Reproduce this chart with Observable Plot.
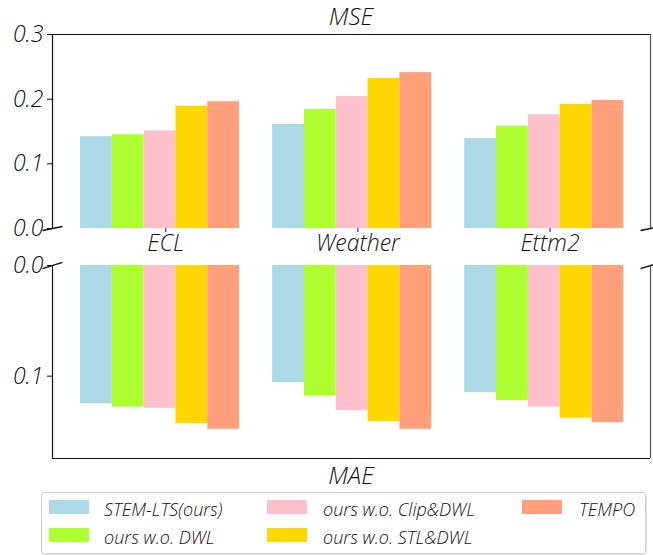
<!DOCTYPE html>
<html>
<head>
<meta charset="utf-8">
<script src="https://cdn.jsdelivr.net/npm/d3@7"></script>
<script src="https://cdn.jsdelivr.net/npm/@observablehq/plot@0.6"></script>
<style>
  html, body { margin: 0; padding: 0; background: #fff; }
  #wrap { position: relative; width: 653px; height: 555px; overflow: hidden; font-family: "Open Sans", sans-serif; font-style: italic; font-weight: 300; color: #111; }
  .title { position: absolute; left: 52px; width: 598px; text-align: center; font-size: 24px; line-height: 24px; }
  #legend { position: absolute; left: 41px; top: 492px; width: 603px; height: 60px; border: 1px solid #cfcfcf; border-radius: 3px; box-shadow: 1px 1px 1px rgba(0,0,0,0.10); }
  .sw { position: absolute; width: 40px; height: 14px; }
  .lt { position: absolute; font-size: 18px; line-height: 20px; white-space: nowrap; }
  .panel { position: absolute; left: 0; }
</style>
</head>
<body>
<div id="wrap">
  <div class="title" style="top:4px">MSE</div>
  <div id="top" class="panel" style="top:0px"></div>
  <div id="bottom" class="panel" style="top:262px"></div>
  <div class="title" style="top:463px">MAE</div>
  <div id="legend"></div>
</div>
<script>
// ---- data ----
const datasets = ["ECL", "Weather", "Ettm2"];
const methods = ["STEM-LTS(ours)", "ours w.o. DWL", "ours w.o. Clip&DWL", "ours w.o. STL&DWL", "TEMPO"];
const colors = ["#ADD8E6", "#ADFF2F", "#FFC0CB", "#FFD700", "#FFA07A"];

const mseECL     = [0.142, 0.145, 0.151, 0.189, 0.196];
const mseWeather = [0.161, 0.184, 0.204, 0.232, 0.241];
const mseEttm2   = [0.139, 0.158, 0.176, 0.192, 0.198];

const maeECL     = [0.125, 0.128, 0.129, 0.143, 0.148];
const maeWeather = [0.106, 0.118, 0.131, 0.141, 0.148];
const maeEttm2   = [0.115, 0.122, 0.128, 0.138, 0.142];

const mseTicks = [0.0, 0.1, 0.2, 0.3];
const maeTicks = [0.0, 0.1];

// ---- build tables ----
function rowsOf(series) {
  const out = [];
  series.forEach((vals, gi) => vals.forEach((v, mi) => out.push({dataset: datasets[gi], method: methods[mi], gi, mi, value: v})));
  return out;
}
const mseRows = rowsOf([mseECL, mseWeather, mseEttm2]);
const maeRows = rowsOf([maeECL, maeWeather, maeEttm2]);

const bw = 0.1656;              // bar width in group units
const xDomain = [-0.5598, 2.553];
const tickShift = 0.03;
const font = "'Open Sans', sans-serif";

const color = {domain: methods, range: colors};
const bars = (rows) => Plot.rectY(rows, {
  x1: d => d.gi + (d.mi - 2.5) * bw,
  x2: d => d.gi + (d.mi - 1.5) * bw,
  y1: 0, y2: "value", fill: "method"
});
const breaks = [{x: xDomain[0]}, {x: xDomain[1]}];
const bx = 0.052;

// ---- top panel (MSE) ----
const topPlot = Plot.plot({
  width: 653, height: 262,
  marginTop: 34, marginBottom: 34, marginLeft: 52, marginRight: 3,
  style: {fontFamily: font, fontStyle: "italic", fontWeight: 300, fontSize: "23px", color: "#111", background: "transparent", overflow: "visible"},
  x: {domain: xDomain, ticks: datasets.map((d, i) => i + tickShift), tickFormat: (t) => datasets[Math.round(t)], tickSize: 4, tickPadding: 2, label: null},
  y: {domain: [0, 0.3], ticks: mseTicks, tickFormat: d3.format(".1f"), tickSize: 5, tickPadding: 4, label: null},
  color,
  marks: [
    bars(mseRows),
    Plot.ruleY([0.3], {stroke: "#111", strokeWidth: 1.2}),
    Plot.ruleX([xDomain[0]], {stroke: "#111", strokeWidth: 1.2}),
    Plot.ruleX([xDomain[1]], {stroke: "#555", strokeWidth: 1.2}),
    Plot.link(breaks, {x1: d => d.x - bx, x2: d => d.x + bx, y1: -0.003, y2: 0.003, stroke: "#111", strokeWidth: 1.5})
  ]
});
document.getElementById("top").appendChild(topPlot);

// ---- bottom panel (MAE) ----
const maeMax = 0.1744;
const bottomPlot = Plot.plot({
  width: 653, height: 208,
  marginTop: 3, marginBottom: 12, marginLeft: 52, marginRight: 3,
  style: {fontFamily: font, fontStyle: "italic", fontWeight: 300, fontSize: "23px", color: "#111", background: "transparent", overflow: "visible"},
  x: {domain: xDomain, axis: null},
  y: {domain: [0, maeMax], reverse: true, ticks: maeTicks, tickFormat: d3.format(".1f"), tickSize: 5, tickPadding: 4, label: null},
  color,
  marks: [
    bars(maeRows),
    Plot.ruleY([maeMax], {stroke: "#111", strokeWidth: 1.2}),
    Plot.ruleX([xDomain[0]], {stroke: "#111", strokeWidth: 1.2}),
    Plot.ruleX([xDomain[1]], {stroke: "#555", strokeWidth: 1.2}),
    Plot.link(breaks, {x1: d => d.x - bx, x2: d => d.x + bx, y1: 0.0028, y2: -0.0028, stroke: "#111", strokeWidth: 1.5})
  ]
});
document.getElementById("bottom").appendChild(bottomPlot);

// ---- legend ----
const legend = document.getElementById("legend");
const colX = [7, 225, 480];
const textX = [62, 281, 537];
const rowY = [7, 35];
const order = [[0, 0], [1, 0], [0, 1], [1, 1], [0, 2]]; // [row, col] for each method (column-major like matplotlib)
methods.forEach((m, i) => {
  const [r, c] = order[i];
  const sw = document.createElement("div");
  sw.className = "sw";
  sw.style.left = colX[c] + "px"; sw.style.top = rowY[r] + "px"; sw.style.background = colors[i];
  legend.appendChild(sw);
  const t = document.createElement("div");
  t.className = "lt";
  t.style.left = textX[c] + "px"; t.style.top = (rowY[r] - 1) + "px";
  t.textContent = m;
  legend.appendChild(t);
});
</script>
</body>
</html>
